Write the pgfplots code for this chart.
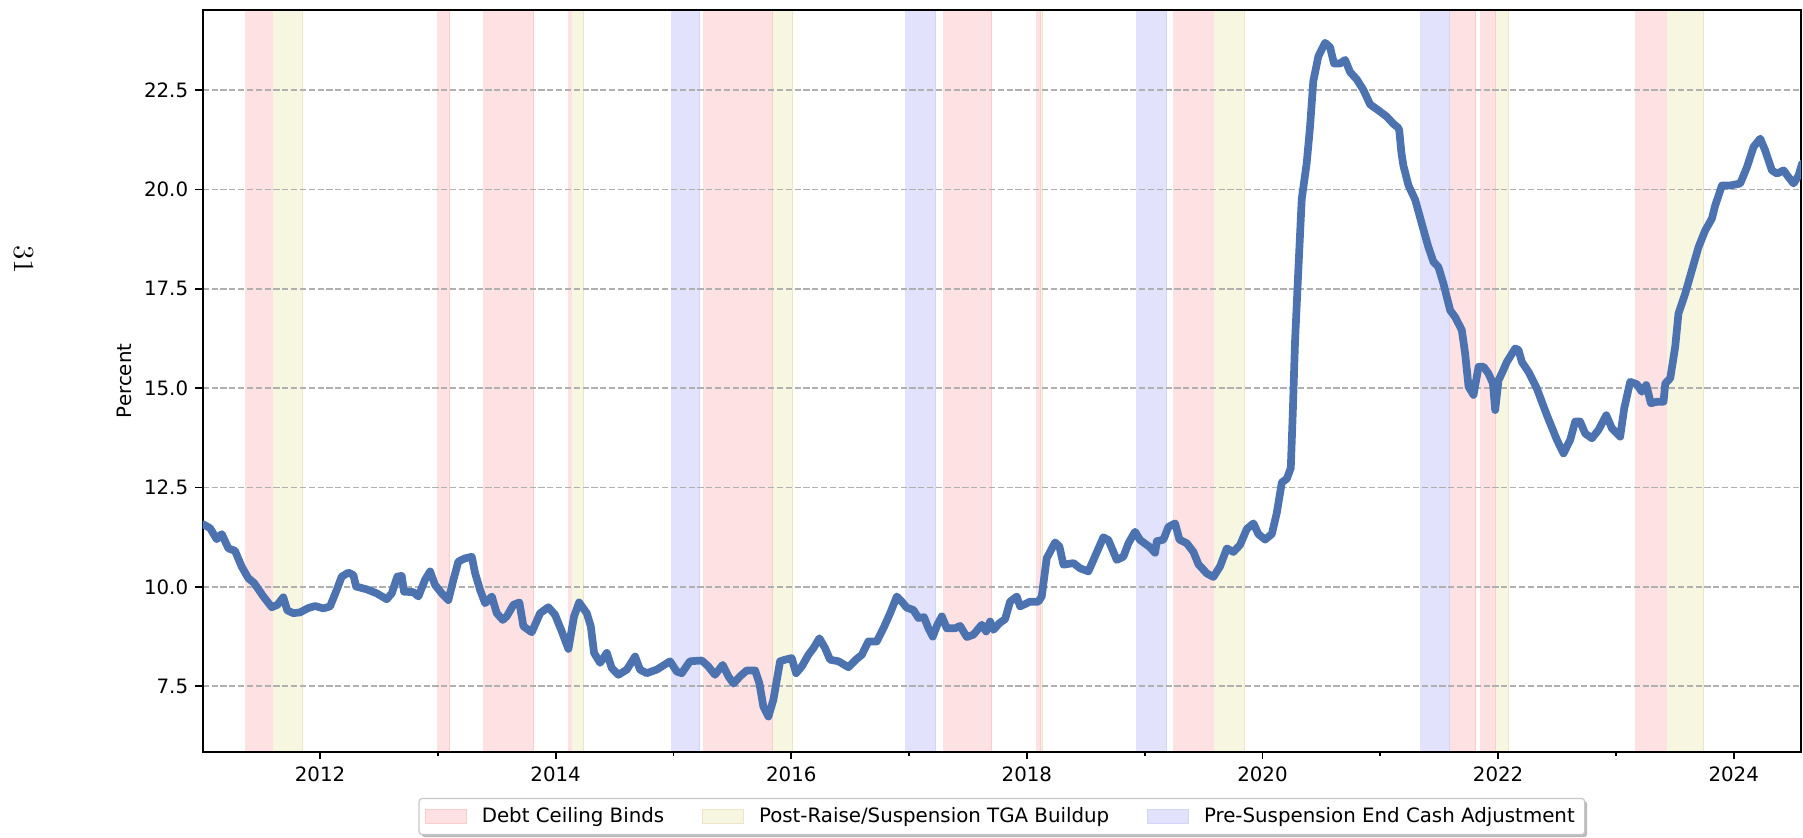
\documentclass[border=0pt]{standalone}
\usepackage{fontspec}
\usepackage{pgfplots}
\pgfplotsset{compat=1.18}
\usetikzlibrary{shadows}
\newfontfamily\dejavu{DejaVu Sans}
\newcommand\lab{\dejavu\fontsize{9.5}{11.4}\selectfont}
\makeatletter
\tikzset{nopreactions/.code={\let\tikz@preactions\pgfutil@empty}}
\makeatother
\definecolor{lineblue}{HTML}{4C72B0}
\definecolor{redshade}{RGB}{254,225,226}
\definecolor{rededge}{RGB}{250,205,205}
\definecolor{yelshade}{RGB}{246,246,225}
\definecolor{yeledge}{RGB}{238,228,200}
\definecolor{blushade}{RGB}{226,226,252}
\definecolor{bluedge}{RGB}{212,212,250}
\newcommand\shadespan[4]{\addplot[fill=#1, draw=#2, line width=0.5pt, forget plot, on layer=axis background] coordinates {(#3,5.85) (#4,5.85) (#4,24.52) (#3,24.52)};}
\begin{document}
\begin{tikzpicture}
\begin{axis}[
  set layers,
  at={(0,0)}, anchor=south west,
  scale only axis, width=767.2pt, height=356.2pt,
  xmin=2011.004, xmax=2024.572, ymin=5.85, ymax=24.52,
  axis line style={black, line width=0.8pt},
  xtick={2012,2014,...,2024},
  minor xtick={2011,2013,...,2023},
  ytick={7.5,10,12.5,15,17.5,20,22.5},
  xtick pos=bottom, ytick pos=left,
  tick align=outside,
  major tick length=3.5pt, minor tick length=2pt,
  every tick/.style={black, line width=0.8pt},
  /pgf/number format/assume math mode=true,
  every tick label/.append style={font=\lab},
  xticklabel style={/pgf/number format/1000 sep={}},
  yticklabel style={/pgf/number format/fixed, /pgf/number format/fixed zerofill, /pgf/number format/precision=1},
  ymajorgrids,
  major grid style={color=black!31, line width=0.8pt, dash pattern=on 2.96pt off 1.28pt},
  ylabel={Percent},
  ylabel style={font=\lab, at={(axis description cs:-0.0491,0.5)}, anchor=center},
  legend columns=3,
  legend image code/.code={\draw[nopreactions, sharp corners, #1, line width=0.5pt] (0pt,-3.4pt) rectangle (19.6pt,3.4pt);},
  legend style={at={(axis description cs:0.5,-0.062)}, anchor=north, font=\lab,
    draw=black!22, fill=white, rounded corners=1.5pt, line width=0.6pt,
    drop shadow={shadow xshift=1.2pt, shadow yshift=-1.2pt, fill=black!45, opacity=0.6},
    inner xsep=2.8pt, inner ysep=3.3pt,
    nodes={inner xsep=2pt, inner ysep=1pt},
    /tikz/every odd column/.append style={column sep=5.2pt},
    /tikz/every even column/.append style={column sep=16.2pt}},
]
% Debt ceiling binds
\shadespan{redshade}{rededge}{2011.363}{2011.604}
\shadespan{redshade}{rededge}{2012.991}{2013.101}
\shadespan{redshade}{rededge}{2013.384}{2013.811}
\shadespan{redshade}{rededge}{2014.103}{2014.142}
\shadespan{redshade}{rededge}{2015.254}{2015.837}
\shadespan{redshade}{rededge}{2017.286}{2017.699}
\shadespan{redshade}{rededge}{2018.078}{2018.118}
\shadespan{redshade}{rededge}{2019.242}{2019.592}
\shadespan{redshade}{rededge}{2021.585}{2021.808}
\shadespan{redshade}{rededge}{2021.849}{2021.980}
\shadespan{redshade}{rededge}{2023.158}{2023.435}
% Post-raise TGA buildup
\shadespan{yelshade}{yeledge}{2011.604}{2011.853}
\shadespan{yelshade}{yeledge}{2014.142}{2014.238}
\shadespan{yelshade}{yeledge}{2015.843}{2016.013}
\shadespan{yelshade}{yeledge}{2018.118}{2018.135}
\shadespan{yelshade}{yeledge}{2019.592}{2019.851}
\shadespan{yelshade}{yeledge}{2021.980}{2022.089}
\shadespan{yelshade}{yeledge}{2023.435}{2023.740}
% Pre-suspension end cash adjustment
\shadespan{blushade}{bluedge}{2014.977}{2015.217}
\shadespan{blushade}{bluedge}{2016.965}{2017.225}
\shadespan{blushade}{bluedge}{2018.926}{2019.181}
\shadespan{blushade}{bluedge}{2021.336}{2021.585}

\addlegendimage{fill=redshade, draw=rededge}
\addlegendentry{Debt Ceiling Binds}
\addlegendimage{fill=yelshade, draw=yeledge}
\addlegendentry{Post-Raise/Suspension TGA Buildup}
\addlegendimage{fill=blushade, draw=bluedge}
\addlegendentry{Pre-Suspension End Cash Adjustment}

\addplot[color=lineblue, line width=3.7pt, line join=round, line cap=round, forget plot] coordinates {
(2011.005,11.58) (2011.066,11.48) (2011.123,11.20) (2011.166,11.33) (2011.222,10.97)
(2011.278,10.91) (2011.335,10.51) (2011.391,10.22) (2011.440,10.10) (2011.519,9.76)
(2011.590,9.49) (2011.638,9.55) (2011.688,9.74) (2011.722,9.41) (2011.773,9.34)
(2011.830,9.36) (2011.901,9.47) (2011.958,9.52) (2012.028,9.46) (2012.085,9.51)
(2012.142,9.93) (2012.184,10.26) (2012.240,10.36) (2012.283,10.30) (2012.306,10.01)
(2012.396,9.94) (2012.481,9.84) (2012.566,9.69) (2012.609,9.84) (2012.656,10.26)
(2012.693,10.28) (2012.713,9.88) (2012.792,9.87) (2012.835,9.76) (2012.891,10.18)
(2012.934,10.39) (2012.976,10.05) (2013.033,9.84) (2013.089,9.67) (2013.132,10.18)
(2013.174,10.64) (2013.231,10.72) (2013.288,10.76) (2013.316,10.35) (2013.358,9.93)
(2013.401,9.59) (2013.458,9.76) (2013.500,9.34) (2013.551,9.17) (2013.585,9.26)
(2013.641,9.55) (2013.692,9.61) (2013.726,9.01) (2013.797,8.86) (2013.868,9.34)
(2013.938,9.49) (2013.995,9.30) (2014.052,8.88) (2014.108,8.44) (2014.156,9.26)
(2014.199,9.61) (2014.264,9.34) (2014.298,9.01) (2014.326,8.34) (2014.377,8.09)
(2014.434,8.34) (2014.476,7.96) (2014.533,7.79) (2014.604,7.92) (2014.674,8.25)
(2014.716,7.92) (2014.773,7.83) (2014.858,7.92) (2014.971,8.13) (2015.028,7.87)
(2015.070,7.83) (2015.140,8.13) (2015.240,8.15) (2015.296,8.00) (2015.352,7.79)
(2015.418,8.04) (2015.466,7.75) (2015.509,7.57) (2015.565,7.75) (2015.622,7.90)
(2015.693,7.90) (2015.729,7.58) (2015.763,6.99) (2015.806,6.74) (2015.848,7.16)
(2015.905,8.13) (2015.947,8.17) (2016.004,8.21) (2016.041,7.83) (2016.089,8.00)
(2016.145,8.29) (2016.188,8.46) (2016.239,8.71) (2016.287,8.46) (2016.329,8.17)
(2016.400,8.13) (2016.485,7.98) (2016.556,8.19) (2016.598,8.29) (2016.655,8.63)
(2016.726,8.63) (2016.782,8.96) (2016.839,9.34) (2016.896,9.76) (2016.938,9.63)
(2016.980,9.48) (2017.037,9.42) (2017.079,9.22) (2017.127,9.24) (2017.164,8.96)
(2017.201,8.75) (2017.240,9.05) (2017.278,9.26) (2017.320,8.96) (2017.390,8.96)
(2017.433,9.02) (2017.490,8.74) (2017.546,8.80) (2017.617,9.05) (2017.654,8.88)
(2017.688,9.13) (2017.716,8.92) (2017.767,9.09) (2017.815,9.19) (2017.857,9.63)
(2017.914,9.76) (2017.942,9.51) (2018.027,9.63) (2018.097,9.63) (2018.126,9.76)
(2018.168,10.72) (2018.239,11.12) (2018.276,11.02) (2018.310,10.56) (2018.395,10.60)
(2018.451,10.47) (2018.522,10.39) (2018.565,10.68) (2018.649,11.25) (2018.692,11.18)
(2018.763,10.68) (2018.819,10.76) (2018.862,11.10) (2018.918,11.39) (2018.961,11.18)
(2019.040,11.01) (2019.088,10.86) (2019.103,11.15) (2019.159,11.19) (2019.201,11.51)
(2019.258,11.60) (2019.295,11.19) (2019.357,11.10) (2019.414,10.88) (2019.456,10.57)
(2019.527,10.34) (2019.583,10.25) (2019.640,10.52) (2019.697,10.97) (2019.753,10.88)
(2019.810,11.06) (2019.867,11.46) (2019.923,11.60) (2019.965,11.33) (2020.022,11.19)
(2020.079,11.33) (2020.121,11.86) (2020.164,12.63) (2020.206,12.72) (2020.240,12.99)
(2020.257,14.38) (2020.276,16.17) (2020.304,17.97) (2020.333,19.76) (2020.375,20.66)
(2020.403,21.56) (2020.431,22.72) (2020.474,23.35) (2020.531,23.69) (2020.573,23.58)
(2020.607,23.17) (2020.659,23.17) (2020.701,23.26) (2020.744,22.95) (2020.800,22.77)
(2020.857,22.50) (2020.913,22.14) (2020.998,21.96) (2021.055,21.83) (2021.111,21.65)
(2021.149,21.56) (2021.160,21.50) (2021.180,20.90) (2021.196,20.60) (2021.239,20.10)
(2021.295,19.75) (2021.352,19.14) (2021.408,18.55) (2021.451,18.18) (2021.493,18.05)
(2021.536,17.63) (2021.593,16.96) (2021.635,16.79) (2021.692,16.46) (2021.720,15.87)
(2021.749,15.04) (2021.791,14.83) (2021.834,15.54) (2021.876,15.54) (2021.918,15.37)
(2021.956,15.12) (2021.975,14.45) (2022.003,15.20) (2022.031,15.37) (2022.074,15.66)
(2022.145,16.00) (2022.173,15.96) (2022.202,15.66) (2022.258,15.41) (2022.329,14.99)
(2022.414,14.32) (2022.499,13.70) (2022.555,13.36) (2022.612,13.70) (2022.654,14.16)
(2022.696,14.16) (2022.739,13.86) (2022.796,13.74) (2022.852,13.95) (2022.918,14.32)
(2022.966,13.99) (2023.036,13.78) (2023.070,14.49) (2023.121,15.16) (2023.178,15.10)
(2023.220,14.91) (2023.257,15.08) (2023.297,14.62) (2023.348,14.66) (2023.404,14.66)
(2023.419,15.12) (2023.461,15.25) (2023.503,16.04) (2023.531,16.88) (2023.588,17.38)
(2023.645,17.97) (2023.701,18.55) (2023.758,18.97) (2023.815,19.27) (2023.843,19.60)
(2023.900,20.10) (2023.970,20.10) (2024.055,20.15) (2024.112,20.56) (2024.168,21.07)
(2024.225,21.28) (2024.267,20.98) (2024.324,20.48) (2024.367,20.40) (2024.423,20.48)
(2024.465,20.31) (2024.508,20.15) (2024.550,20.35) (2024.580,20.65)
};
\end{axis}
\node[rotate=-90, font=\fontsize{14}{16}\selectfont, inner sep=0pt] at (-85.8pt,236.3pt) {31};
\path (-97.3pt,-40.9pt) rectangle (768.1pt,360.9pt);
\end{tikzpicture}
\end{document}
